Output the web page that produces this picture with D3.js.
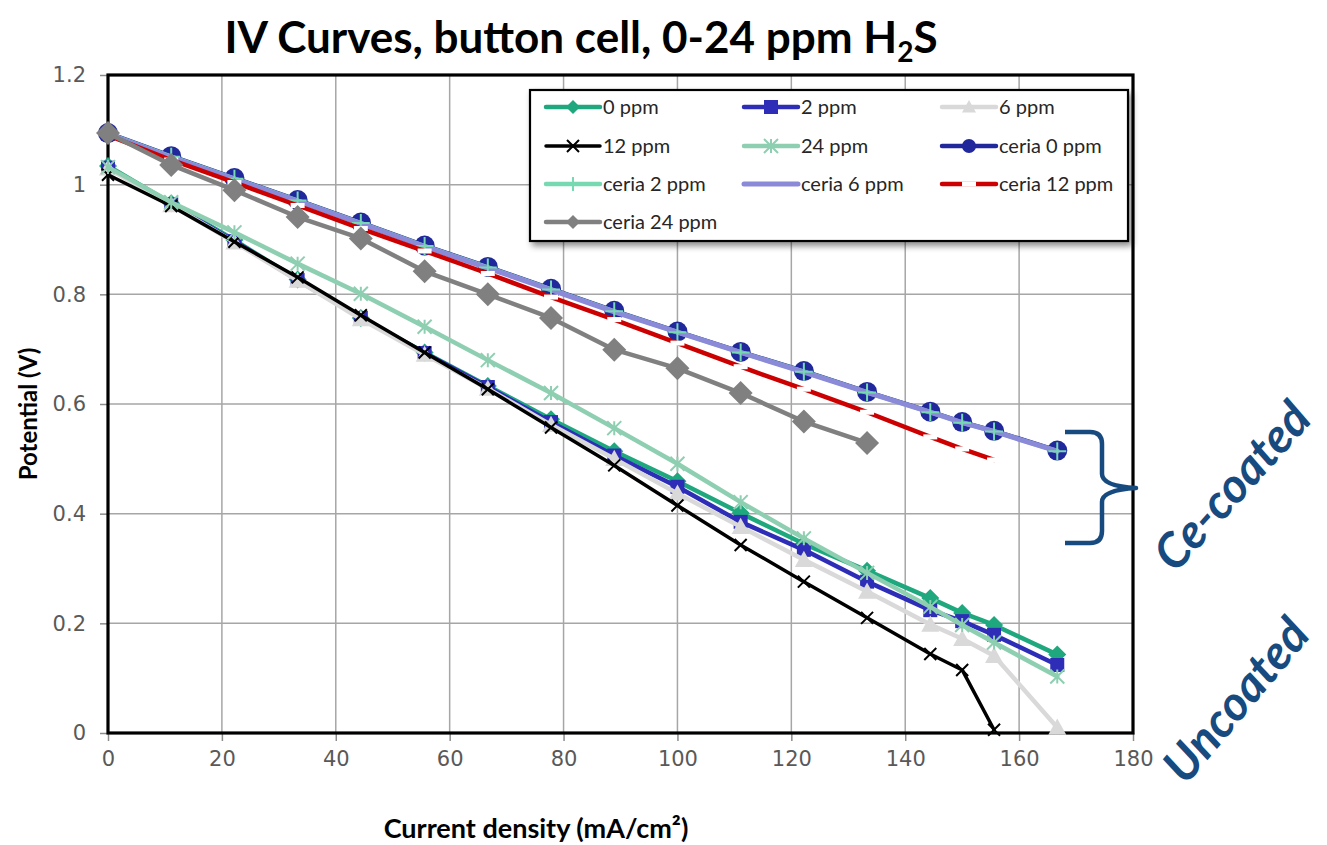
<!DOCTYPE html>
<html><head><meta charset="utf-8">
<script src="https://cdn.jsdelivr.net/npm/d3@7"></script>
<style>body{margin:0;background:#fff} svg{display:block}</style>
</head><body>
<svg id="c" width="1327" height="845"></svg>
<script>
// ---------- data ----------
const xValues = [0, 11.1, 22.2, 33.3, 44.4, 55.6, 66.7, 77.8, 88.9, 100, 111.1, 122.2, 133.3, 144.4, 150, 155.6, 166.7];
const seriesNames = ["0 ppm", "2 ppm", "6 ppm", "12 ppm", "24 ppm", "ceria 0 ppm", "ceria 2 ppm", "ceria 6 ppm", "ceria 12 ppm", "ceria 24 ppm"];
const ppm0    = [1.034, 0.966, 0.899, 0.827, 0.757, 0.694, 0.633, 0.572, 0.514, 0.459, 0.401, 0.345, 0.296, 0.246, 0.219, 0.197, 0.143];
const ppm2    = [1.031, 0.964, 0.897, 0.826, 0.757, 0.693, 0.631, 0.567, 0.506, 0.449, 0.385, 0.334, 0.276, 0.224, 0.204, 0.179, 0.124];
const ppm6    = [1.030, 0.963, 0.895, 0.825, 0.755, 0.690, 0.628, 0.562, 0.500, 0.437, 0.376, 0.316, 0.258, 0.198, 0.172, 0.141, 0.010];
const ppm12   = [1.018, 0.961, 0.896, 0.831, 0.762, 0.694, 0.627, 0.557, 0.488, 0.415, 0.343, 0.276, 0.210, 0.144, 0.115, 0.006];
const ppm24   = [1.032, 0.968, 0.913, 0.856, 0.801, 0.741, 0.680, 0.620, 0.556, 0.491, 0.421, 0.355, 0.292, 0.230, 0.197, 0.165, 0.103];
const ceria0  = [1.094, 1.052, 1.012, 0.972, 0.931, 0.889, 0.850, 0.810, 0.770, 0.732, 0.695, 0.660, 0.622, 0.586, 0.567, 0.551, 0.515];
const ceria2  = [1.093, 1.051, 1.011, 0.971, 0.930, 0.888, 0.849, 0.809, 0.769, 0.731, 0.694, 0.659, 0.621, 0.585, 0.566, 0.550, 0.514];
const ceria6  = [1.092, 1.050, 1.010, 0.970, 0.929, 0.887, 0.848, 0.808, 0.768, 0.731, 0.694, 0.658, 0.621, 0.585, 0.566, 0.550, 0.514];
const ceria12 = [1.090, 1.045, 1.004, 0.962, 0.920, 0.879, 0.838, 0.795, 0.754, 0.711, 0.668, 0.627, 0.585, 0.540, 0.518, 0.498];
const ceria24 = [1.094, 1.036, 0.990, 0.941, 0.902, 0.842, 0.800, 0.757, 0.699, 0.665, 0.620, 0.568, 0.529];
const xTicks = [0, 20, 40, 60, 80, 100, 120, 140, 160, 180];
const yTicks = [0, 0.2, 0.4, 0.6, 0.8, 1, 1.2];
const titleText = "IV Curves, button cell, 0-24 ppm H";
const xTitle = "Current density (mA/cm²)";
const yTitle = "Potential (V)";

// ---------- styles ----------
const seriesValues = [ppm0, ppm2, ppm6, ppm12, ppm24, ceria0, ceria2, ceria6, ceria12, ceria24];
const styles = [
  {color: "#1fa87d", width: 4.5, marker: "diamond", size: 9, mfill: "#1fa87d"},
  {color: "#2d2db8", width: 4.5, marker: "square", size: 7, mfill: "#2d2db8"},
  {color: "#d9d9d9", width: 4.5, marker: "triangle", size: 9, mfill: "#d9d9d9"},
  {color: "#000000", width: 3.5, marker: "x", size: 6, mfill: "#000000"},
  {color: "#8ecfb1", width: 4.5, marker: "asterisk", size: 7, mfill: "#8ecfb1"},
  {color: "#20289c", width: 4.5, marker: "circle", size: 10, mfill: "#20289c"},
  {color: "#76d9b2", width: 4.5, marker: "plus", size: 9, mfill: "#76d9b2"},
  {color: "#8a8ad9", width: 5, marker: "none", size: 0, mfill: "none"},
  {color: "#cc0000", width: 4.5, marker: "dash", size: 7, mfill: "#ffffff"},
  {color: "#808080", width: 4.5, marker: "diamond", size: 12, mfill: "#808080"}
];

const svg = d3.select("#c");
const defs = svg.append("defs");
const f = defs.append("filter").attr("id", "sh").attr("x", "-5%").attr("y", "-5%").attr("width", "115%").attr("height", "125%");
f.append("feDropShadow").attr("dx", 3).attr("dy", 4).attr("stdDeviation", 3).attr("flood-color", "#000").attr("flood-opacity", 0.45);

const x = d3.scaleLinear().domain([0, 180]).range([108, 1133]);
const y = d3.scaleLinear().domain([0, 1.2]).range([733, 75]);

// gridlines
const grid = svg.append("g");
grid.selectAll("line.v").data(xTicks.slice(1, -1)).join("line")
  .attr("x1", d => x(d)).attr("x2", d => x(d)).attr("y1", y(1.2)).attr("y2", y(0))
  .attr("stroke", "#a6a6a6").attr("stroke-width", 1.5);
grid.selectAll("line.h").data(yTicks.slice(1, -1)).join("line")
  .attr("y1", d => y(d)).attr("y2", d => y(d)).attr("x1", x(0)).attr("x2", x(180))
  .attr("stroke", "#a6a6a6").attr("stroke-width", 1.5);

// axes
const xAxis = svg.append("g").attr("transform", `translate(0,${y(0)})`)
  .call(d3.axisBottom(x).tickValues(xTicks).tickSize(8).tickPadding(10).tickFormat(d3.format("d")));
const yAxis = svg.append("g").attr("transform", `translate(${x(0)},0)`)
  .call(d3.axisLeft(y).tickValues(yTicks).tickSize(8).tickPadding(14).tickFormat(d => d === 0 ? "0" : d3.format("~g")(d)));
[xAxis, yAxis].forEach(a => {
  a.select(".domain").remove();
  a.selectAll(".tick line").attr("stroke", "#8c8c8c").attr("stroke-width", 1.5);
  a.selectAll(".tick text").attr("fill", "#595959").style("font-family", "'DejaVu Sans', sans-serif").style("font-size", "21px");
});

// plot frame
svg.append("rect").attr("x", x(0)).attr("y", y(1.2)).attr("width", x(180) - x(0)).attr("height", y(0) - y(1.2))
  .attr("fill", "none").attr("stroke", "#000").attr("stroke-width", 3.2);

// marker path generator
function markerPath(type, r) {
  switch (type) {
    case "diamond": return `M0,${-r}L${r},0L0,${r}L${-r},0Z`;
    case "square": return `M${-r},${-r}H${r}V${r}H${-r}Z`;
    case "triangle": return `M0,${-r}L${r},${r * 0.8}L${-r},${r * 0.8}Z`;
    case "circle": return d3.symbol(d3.symbolCircle, Math.PI * r * r)();
    case "x": return `M${-r},${-r}L${r},${r}M${-r},${r}L${r},${-r}`;
    case "plus": return `M0,${-r}V${r}M${-r},0H${r}`;
    case "asterisk": return `M${-r},${-r}L${r},${r}M${-r},${r}L${r},${-r}M0,${-r}V${r}`;
    case "dash": return `M${-r},-2.5H${r}V2.5H${-r}Z`;
    default: return "";
  }
}
function drawMarkers(g, pts, st) {
  if (st.marker === "none") return;
  const stroked = ["x", "plus", "asterisk"].includes(st.marker);
  g.selectAll(null).data(pts).join("path")
    .attr("transform", d => `translate(${x(d[0])},${y(d[1])})`)
    .attr("d", markerPath(st.marker, st.size))
    .attr("fill", stroked ? "none" : st.mfill)
    .attr("stroke", stroked ? st.color : "none")
    .attr("stroke-width", stroked ? 2 : 0);
}
const line = d3.line().x(d => x(d[0])).y(d => y(d[1]));
const pointsOf = vals => vals.map((v, i) => [xValues[i], v]);

const plot = svg.append("g");
// draw order: each series' line then markers; ceria 2 ppm markers drawn after ceria 6 line
const order = [[0,"l"],[0,"m"],[1,"l"],[1,"m"],[2,"l"],[2,"m"],[3,"l"],[3,"m"],[4,"l"],[4,"m"],
               [5,"l"],[5,"m"],[6,"l"],[7,"l"],[6,"m"],[8,"l"],[8,"m"],[9,"l"],[9,"m"]];
order.forEach(([i, k]) => {
  const st = styles[i], pts = pointsOf(seriesValues[i]);
  const g = plot.append("g");
  if (k === "l") {
    g.append("path").attr("d", line(pts)).attr("fill", "none").attr("stroke", st.color)
      .attr("stroke-width", st.width).attr("stroke-linejoin", "round").attr("stroke-linecap", "round");
  } else drawMarkers(g, pts, st);
});

// legend
const lg = svg.append("g");
lg.append("rect").attr("x", 530).attr("y", 90).attr("width", 598).attr("height", 151)
  .attr("fill", "#fff").attr("stroke", "#000").attr("stroke-width", 2.2).attr("filter", "url(#sh)");
const colX = [546, 744, 942], rowY = [107, 146, 184, 222];
seriesNames.forEach((name, i) => {
  const cx = colX[i % 3], cy = rowY[Math.floor(i / 3)], st = styles[i];
  const g = lg.append("g");
  g.append("line").attr("x1", cx).attr("x2", cx + 54).attr("y1", cy).attr("y2", cy)
    .attr("stroke", st.color).attr("stroke-width", st.width).attr("stroke-linecap", "round");
  const ms = Object.assign({}, st, {size: Math.min(st.size, 7)});
  drawMarkers(g, [[x.invert(cx + 27), y.invert(cy)]], ms);
  g.append("text").attr("x", cx + 57).attr("y", cy).attr("dy", "0.35em").text(name)
    .attr("fill", "#262626").style("font-family", "Lato, sans-serif").style("font-size", "20px");
});

// titles
const t = svg.append("text").attr("x", 581).attr("y", 53).attr("text-anchor", "middle")
  .style("font-family", "Lato, sans-serif").style("font-weight", "bold").style("font-size", "44px").attr("fill", "#000");
t.append("tspan").text(titleText);
t.append("tspan").text("2").attr("dy", 9).style("font-size", "28px");
t.append("tspan").text("S").attr("dy", -9);

svg.append("text").attr("x", 536).attr("y", 838).attr("text-anchor", "middle").text(xTitle)
  .style("font-family", "Lato, sans-serif").style("font-weight", "bold").style("font-size", "27px").attr("fill", "#000");
svg.append("text").attr("transform", "translate(37,414) rotate(-90)").attr("text-anchor", "middle").text(yTitle)
  .style("font-family", "Lato, sans-serif").style("font-weight", "bold").style("font-size", "24px").attr("fill", "#000");

// annotation: brace and labels
const navy = "#174a7e";
svg.append("path")
  .attr("d", "M1065,432 L1090,432 Q1102,432 1102,444 L1102,474 Q1102,486 1136,488 Q1102,490 1102,502 L1102,531 Q1102,543 1090,543 L1065,543")
  .attr("fill", "none").attr("stroke", navy).attr("stroke-width", 4.5).attr("stroke-linejoin", "round");
svg.append("text").attr("transform", "translate(1232,486) rotate(-48)").attr("text-anchor", "middle").attr("dy", "0.35em")
  .text("Ce-coated").attr("fill", navy)
  .style("font-family", "Lato, sans-serif").style("font-style", "italic").style("font-weight", "bold").style("font-size", "48px");
svg.append("text").attr("transform", "translate(1236,700) rotate(-50)").attr("text-anchor", "middle").attr("dy", "0.35em")
  .text("Uncoated").attr("fill", navy)
  .style("font-family", "Lato, sans-serif").style("font-style", "italic").style("font-weight", "bold").style("font-size", "48px");
</script>
</body></html>
